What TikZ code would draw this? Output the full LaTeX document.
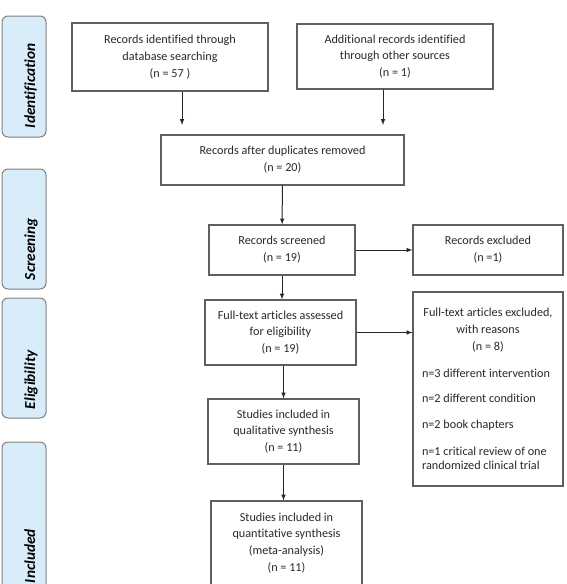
\documentclass[tikz,border=0pt]{standalone}
\usepackage{fontspec}
\setmainfont{Carlito}[Ligatures=NoCommon]
\definecolor{phasefill}{RGB}{216,236,250}
\definecolor{boxline}{RGB}{95,95,95}
\definecolor{boxtext}{RGB}{40,40,40}
\newcommand{\reasonline}[1]{\makebox[132pt][l]{#1}}

\begin{document}
\begin{tikzpicture}
  [
  x=1pt,y=-1pt,
  box/.style={rectangle,draw=boxline,line width=1.1pt,inner sep=0pt,align=center,text=boxtext,font=\fontsize{12.2}{16.8}\selectfont},
  phase/.style={rectangle,draw=gray,fill=phasefill,rounded corners=6pt,line width=1pt,rotate=90,inner sep=0pt,minimum height=44pt,align=left,text height=22pt,text depth=0pt,font=\fontsize{15.3}{18}\selectfont\bfseries\itshape},
  flow/.style={-latex,line width=1pt,draw=black!85}
  ]
  \useasboundingbox (0,0) rectangle (566,584);
  \clip (0,0) rectangle (566,584);

  \node (ident) at (24,76.5) [phase,minimum width=121pt,text width=103pt] {Identification};
  \node (screen) at (24,229) [phase,minimum width=120pt,text width=102pt] {Screening};
  \node (elig) at (24,358) [phase,minimum width=120pt,text width=102pt] {Eligibility};
  \node (incl) at (24,517) [phase,minimum width=150pt,text width=132pt] {Included};

  \node (db) at (170,57) [box,minimum width=196pt,minimum height=68pt] {Records identified through\\database searching\\(n = 57 )};
  \node (other) at (395,56.5) [box,minimum width=196pt,minimum height=65pt] {Additional records identified\\through other sources\\(n = 1)};
  \node (dup) at (282.5,160) [box,minimum width=243pt,minimum height=50pt] {Records after duplicates removed\\(n = 20)};
  \node (screened) at (282,250) [box,minimum width=146pt,minimum height=50pt] {Records screened\\(n = 19)};
  \node (excl) at (488,250) [box,minimum width=150pt,minimum height=50pt] {Records excluded\\(n =1)};
  \node (full) at (280.5,332.5) [box,minimum width=151pt,minimum height=65pt] {Full-text articles assessed\\for eligibility\\(n = 19)};
  \node (fullex) at (488,389) [box,minimum width=150pt,minimum height=194pt] {Full-text articles excluded,\\with reasons\\(n = 8)\\[10pt]
    \reasonline{n=3 different intervention}\\[9pt]
    \reasonline{n=2 different condition}\\[9pt]
    \reasonline{n=2 book chapters}\\[10pt]
    \reasonline{n=1 critical review of one}\\[-2.8pt]
    \reasonline{randomized clinical trial}};
  \node (qual) at (283.5,431.5) [box,minimum width=151pt,minimum height=65pt] {Studies included in\\qualitative synthesis\\(n = 11)};
  \node (quant) at (286.5,543) [box,minimum width=151pt,minimum height=84pt] {Studies included in\\quantitative synthesis\\(meta-analysis)\\(n = 11)};

  \coordinate (dbin) at (182,125);
  \coordinate (otherin) at (383,125);

  \draw [flow] (db.south -| dbin) to (dbin);
  \draw [flow] (other.south -| otherin) to (otherin);
  \draw [flow] (dup) to (screened);
  \draw [flow] (screened) to (excl);
  \draw [flow] (screened.south) to (screened.south |- full.north);
  \draw [flow] (full.east) to (full.east -| fullex.west);
  \draw [flow] (qual.north |- full.south) to (qual.north);
  \draw [flow] (qual.south) to (qual.south |- quant.north);
\end{tikzpicture}
\end{document}
